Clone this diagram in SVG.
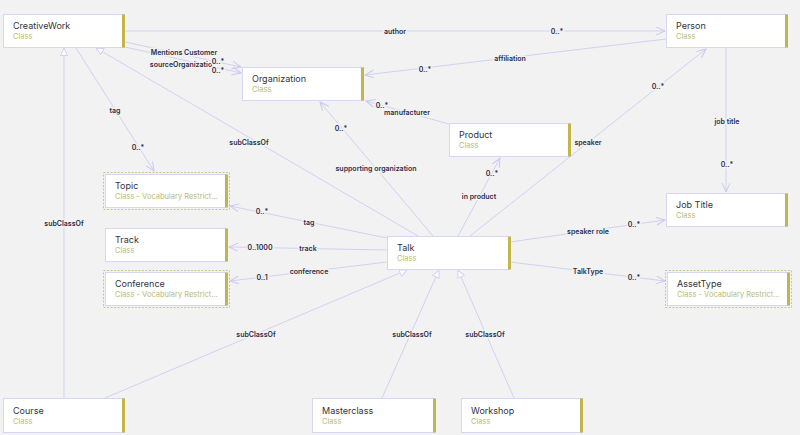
<svg xmlns="http://www.w3.org/2000/svg" width="800" height="435" viewBox="0 0 800 435">
<defs>
<style>
.bg{fill:#f2f2f2}
.box{fill:#ffffff;stroke:#d6d6f5;stroke-width:1}
.bar{fill:#c2b54a}
.dash{fill:none;stroke:#c9c98f;stroke-width:1;stroke-dasharray:2 1.5}
.name{font-family:Inter,"Liberation Sans",sans-serif;font-size:9px;fill:#333338}
.type{font-family:Inter,"Liberation Sans",sans-serif;font-size:7.5px;fill:#b8bc74}
.edge{fill:none;stroke:#d0d1f2;stroke-width:1}
.lbl{font-family:Inter,"Liberation Sans",sans-serif;font-size:7px;font-weight:600;fill:#2d2d4a;text-anchor:middle;stroke:#f2f2f2;stroke-width:3;paint-order:stroke;stroke-linejoin:round}
</style>
<marker id="open" markerWidth="10" markerHeight="10" refX="9" refY="4" orient="auto" markerUnits="userSpaceOnUse">
<path d="M0,0 L9,4 L0,8" fill="none" stroke="#c8c9ee" stroke-width="1"/>
</marker>
<marker id="tri" markerWidth="10" markerHeight="10" refX="8" refY="4" orient="auto" markerUnits="userSpaceOnUse">
<path d="M0.5,0.5 L8,4 L0.5,7.5 Z" fill="#ffffff" stroke="#d0d1f2" stroke-width="1"/>
</marker>
</defs>
<rect class="bg" x="0" y="0" width="800" height="435"/>

<g id="connectors">
<line class="edge" x1="125" y1="31" x2="665" y2="31" marker-end="url(#open)"/>
<line class="edge" x1="125" y1="42" x2="241" y2="67" marker-end="url(#open)"/>
<line class="edge" x1="125" y1="47" x2="241" y2="73" marker-end="url(#open)"/>
<line class="edge" x1="666" y1="39" x2="365" y2="75" marker-end="url(#open)"/>
<line class="edge" x1="449" y1="124" x2="366" y2="101" marker-end="url(#open)"/>
<line class="edge" x1="433" y1="236" x2="320" y2="102" marker-end="url(#open)"/>
<line class="edge" x1="458" y1="236" x2="500" y2="158" marker-end="url(#open)"/>
<line class="edge" x1="470" y1="236" x2="706" y2="49" marker-end="url(#open)"/>
<line class="edge" x1="726" y1="48" x2="726" y2="192" marker-end="url(#open)"/>
<line class="edge" x1="510" y1="242" x2="665" y2="220" marker-end="url(#open)"/>
<line class="edge" x1="510" y1="262" x2="665" y2="281" marker-end="url(#open)"/>
<line class="edge" x1="387" y1="238" x2="230" y2="206" marker-end="url(#open)"/>
<line class="edge" x1="387" y1="250" x2="229" y2="247" marker-end="url(#open)"/>
<line class="edge" x1="387" y1="262" x2="230" y2="281" marker-end="url(#open)"/>
<line class="edge" x1="76" y1="48" x2="154" y2="171" marker-end="url(#open)"/>
<line class="edge" x1="418" y1="236" x2="96" y2="48" marker-end="url(#tri)"/>
<line class="edge" x1="64" y1="398" x2="64" y2="48" marker-end="url(#tri)"/>
<line class="edge" x1="105" y1="398" x2="407" y2="270" marker-end="url(#tri)"/>
<line class="edge" x1="382" y1="398" x2="439" y2="270" marker-end="url(#tri)"/>
<line class="edge" x1="514" y1="398" x2="458" y2="270" marker-end="url(#tri)"/>

<text class="lbl" x="395" y="34">author</text>
<text class="lbl" x="557" y="34">0..*</text>
<text class="lbl" x="184" y="55">Mentions Customer</text>
<text class="lbl" x="181" y="67">sourceOrganizatio</text>
<text class="lbl" x="218" y="64">0..*</text>
<text class="lbl" x="218" y="73">0..*</text>
<text class="lbl" x="510" y="61">affiliation</text>
<text class="lbl" x="425" y="72">0..*</text>
<text class="lbl" x="407" y="115">manufacturer</text>
<text class="lbl" x="382" y="108">0..*</text>
<text class="lbl" x="376" y="171">supporting organization</text>
<text class="lbl" x="341" y="131">0..*</text>
<text class="lbl" x="479" y="199">in product</text>
<text class="lbl" x="492" y="176">0..*</text>
<text class="lbl" x="588" y="145">speaker</text>
<text class="lbl" x="658" y="89">0..*</text>
<text class="lbl" x="727" y="124">job title</text>
<text class="lbl" x="727" y="167">0..*</text>
<text class="lbl" x="588" y="234">speaker role</text>
<text class="lbl" x="634" y="227">0..*</text>
<text class="lbl" x="588" y="274">TalkType</text>
<text class="lbl" x="634" y="280">0..*</text>
<text class="lbl" x="309" y="225">tag</text>
<text class="lbl" x="262" y="214">0..*</text>
<text class="lbl" x="308" y="251">track</text>
<text class="lbl" x="260" y="250">0..1000</text>
<text class="lbl" x="309" y="274">conference</text>
<text class="lbl" x="262" y="280">0..1</text>
<text class="lbl" x="115" y="113">tag</text>
<text class="lbl" x="138" y="150">0..*</text>
<text class="lbl" x="249" y="145">subClassOf</text>
<text class="lbl" x="64" y="226">subClassOf</text>
<text class="lbl" x="256" y="337">subClassOf</text>
<text class="lbl" x="412" y="337">subClassOf</text>
<text class="lbl" x="485" y="337">subClassOf</text>
</g>

<g id="n-creativework">
<rect class="box" x="3.5" y="14.5" width="121" height="33"/>
<rect class="bar" x="122" y="14.5" width="3" height="33"/>
<text class="name" x="13" y="29">CreativeWork</text>
<text class="type" x="13" y="39">Class</text>
</g>
<g id="n-person">
<rect class="box" x="666.5" y="14.5" width="121" height="33"/>
<rect class="bar" x="785" y="14.5" width="3" height="33"/>
<text class="name" x="676" y="29">Person</text>
<text class="type" x="676" y="39">Class</text>
</g>
<g id="n-organization">
<rect class="box" x="242.5" y="67.5" width="121" height="33"/>
<rect class="bar" x="361" y="67.5" width="3" height="33"/>
<text class="name" x="252" y="82">Organization</text>
<text class="type" x="252" y="92">Class</text>
</g>
<g id="n-product">
<rect class="box" x="449.5" y="123.5" width="121" height="33"/>
<rect class="bar" x="568" y="123.5" width="3" height="33"/>
<text class="name" x="459" y="138">Product</text>
<text class="type" x="459" y="148">Class</text>
</g>
<g id="n-topic">
<rect class="dash" x="103.5" y="172.5" width="126" height="37"/>
<rect class="box" x="105.5" y="174.5" width="121" height="33"/>
<rect class="bar" x="225" y="174.5" width="3" height="33"/>
<text class="name" x="115" y="189">Topic</text>
<text class="type" x="115" y="199">Class - Vocabulary Restrict...</text>
</g>
<g id="n-track">
<rect class="box" x="105.5" y="228.5" width="121" height="33"/>
<rect class="bar" x="225" y="228.5" width="3" height="33"/>
<text class="name" x="115" y="243">Track</text>
<text class="type" x="115" y="253">Class</text>
</g>
<g id="n-conference">
<rect class="dash" x="103.5" y="270.5" width="126" height="37"/>
<rect class="box" x="105.5" y="272.5" width="121" height="33"/>
<rect class="bar" x="225" y="272.5" width="3" height="33"/>
<text class="name" x="115" y="287">Conference</text>
<text class="type" x="115" y="297">Class - Vocabulary Restrict...</text>
</g>
<g id="n-talk">
<rect class="box" x="387.5" y="236.5" width="122" height="33"/>
<rect class="bar" x="508" y="236.5" width="3" height="33"/>
<text class="name" x="397" y="251">Talk</text>
<text class="type" x="397" y="261">Class</text>
</g>
<g id="n-jobtitle">
<rect class="box" x="666.5" y="193.5" width="121" height="33"/>
<rect class="bar" x="785" y="193.5" width="3" height="33"/>
<text class="name" x="676" y="208">Job Title</text>
<text class="type" x="676" y="218">Class</text>
</g>
<g id="n-assettype">
<rect class="dash" x="665.5" y="270.5" width="126" height="37"/>
<rect class="box" x="667.5" y="272.5" width="121" height="33"/>
<rect class="bar" x="787" y="272.5" width="3" height="33"/>
<text class="name" x="677" y="287">AssetType</text>
<text class="type" x="677" y="297">Class - Vocabulary Restrict...</text>
</g>
<g id="n-course">
<rect class="box" x="3.5" y="398.5" width="121" height="34"/>
<rect class="bar" x="122" y="398.5" width="3" height="34"/>
<text class="name" x="13" y="414">Course</text>
<text class="type" x="13" y="424">Class</text>
</g>
<g id="n-masterclass">
<rect class="box" x="312.5" y="398.5" width="122" height="34"/>
<rect class="bar" x="433" y="398.5" width="3" height="34"/>
<text class="name" x="322" y="414">Masterclass</text>
<text class="type" x="322" y="424">Class</text>
</g>
<g id="n-workshop">
<rect class="box" x="461.5" y="398.5" width="121" height="34"/>
<rect class="bar" x="580" y="398.5" width="3" height="34"/>
<text class="name" x="471" y="414">Workshop</text>
<text class="type" x="471" y="424">Class</text>
</g>
</svg>
